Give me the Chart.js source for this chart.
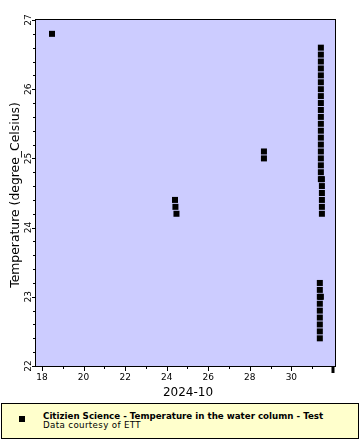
<!DOCTYPE html>
<html><head><meta charset="utf-8">
<script src="https://cdn.jsdelivr.net/npm/chart.js@4/dist/chart.umd.min.js"></script>
<style>
html,body{margin:0;padding:0;background:#fff;}
#wrap{position:relative;width:360px;height:440px;overflow:hidden;}
#c{position:absolute;left:0;top:0;}
#legend{position:absolute;left:1px;top:403px;width:356px;height:34px;background:#FFFFCC;border:1px solid #000;font-family:"DejaVu Sans",sans-serif;color:#000;}
#mk{position:absolute;left:17px;top:12px;width:6px;height:6px;background:#000;}
#l1{position:absolute;left:41px;top:8px;font-size:8.7px;font-weight:bold;line-height:9px;white-space:nowrap;}
#l2{position:absolute;left:41px;top:17px;font-size:8.7px;line-height:9px;letter-spacing:0.35px;white-space:nowrap;}
</style>
</head><body>
<div id="wrap">
<canvas id="c" width="360" height="440"></canvas>
<div id="legend"><div id="mk"></div><div id="l1">Citizien Science - Temperature in the water column - Test</div><div id="l2">Data courtesy of ETT</div></div>
</div>
<script>
// Day of October 2024 (fractional) and temperature (°C)
const days = [18.48,
  24.40, 24.42, 24.47,
  28.68, 28.68,
  31.42, 31.42, 31.42, 31.42, 31.42, 31.42, 31.42, 31.42, 31.42, 31.42,
  31.42, 31.42, 31.42, 31.42, 31.42, 31.42, 31.42, 31.42, 31.42,
  31.42, 31.47, 31.47, 31.47, 31.47, 31.47, 31.47,
  31.37, 31.37, 31.37, 31.42, 31.37, 31.37, 31.37, 31.37, 31.37, 31.37];
const temps = [26.8,
  24.4, 24.3, 24.2,
  25.1, 25.0,
  26.6, 26.5, 26.4, 26.3, 26.2, 26.1, 26.0, 25.9, 25.8, 25.7,
  25.6, 25.5, 25.4, 25.3, 25.2, 25.1, 25.0, 24.9, 24.8,
  24.7, 24.7, 24.6, 24.5, 24.4, 24.3, 24.2,
  23.2, 23.1, 23.0, 23.0, 22.9, 22.8, 22.7, 22.6, 22.5, 22.4];
const xTickValues = [18, 20, 22, 24, 26, 28, 30];
const xTickLabels = ['18', '20', '22', '24', '26', '28', '30'];
const yTickValues = [22, 23, 24, 25, 26, 27];
const yTickLabels = ['22', '23', '24', '25', '26', '27'];
const xTitle = '2024-10';
const yTitle = 'Temperature (degree_Celsius)';

const pts = days.map((d, i) => ({x: d, y: temps[i]}));

const deco = {
  id: 'deco',
  beforeDraw(chart) {
    const a = chart.chartArea, ctx = chart.ctx;
    ctx.save();
    ctx.fillStyle = '#CCCCFF';
    ctx.fillRect(a.left, a.top, a.right - a.left, a.bottom - a.top);
    ctx.restore();
  },
  afterDraw(chart) {
    const a = chart.chartArea, ctx = chart.ctx;
    const xs = chart.scales.x, ys = chart.scales.y;
    ctx.save();
    ctx.strokeStyle = '#000';
    ctx.fillStyle = '#000';
    ctx.lineWidth = 1;
    ctx.strokeRect(Math.round(a.left) - 0.5, Math.round(a.top) - 0.5,
      Math.round(a.right - a.left) + 1, Math.round(a.bottom - a.top) + 1);
    // y ticks
    ctx.beginPath();
    for (let i = 0; i <= 25; i++) {
      const v = 22 + i * 0.2;
      const py = Math.round(ys.getPixelForValue(v)) + 0.5;
      const len = (i % 5 === 0) ? 4 : 3;
      ctx.moveTo(a.left - len, py); ctx.lineTo(a.left, py);
    }
    // x ticks
    for (let d = 18; d <= 31; d++) {
      const px = Math.round(xs.getPixelForValue(d)) + 0.5;
      const len = (d % 2 === 0) ? 5 : 3;
      ctx.moveTo(px, a.bottom); ctx.lineTo(px, a.bottom + len);
    }
    ctx.stroke();
    // month boundary tick (1 Nov)
    const pm = xs.getPixelForValue(32);
    ctx.fillRect(Math.round(pm) - 1.5, a.bottom, 3, 7);
    // x tick labels
    ctx.font = '9px "DejaVu Sans"';
    ctx.textAlign = 'center';
    ctx.textBaseline = 'alphabetic';
    xTickValues.forEach((v, i) => ctx.fillText(xTickLabels[i], xs.getPixelForValue(v), 380));
    // y tick labels rotated
    yTickValues.forEach((v, i) => {
      ctx.save();
      ctx.translate(30.5, ys.getPixelForValue(v));
      ctx.rotate(-Math.PI / 2);
      ctx.fillText(yTickLabels[i], 0, 0);
      ctx.restore();
    });
    // titles
    ctx.font = '12px "DejaVu Sans"';
    ctx.fillText(xTitle, 188, 396);
    ctx.font = '12.4px "DejaVu Sans"';
    ctx.save();
    ctx.translate(19, 195);
    ctx.rotate(-Math.PI / 2);
    ctx.fillText(yTitle, 0, 0);
    ctx.restore();
    ctx.restore();
  }
};

new Chart(document.getElementById('c'), {
  type: 'scatter',
  data: { datasets: [{ data: pts, pointStyle: 'rect', pointRadius: 4.25, pointHoverRadius: 4.25,
    backgroundColor: '#000', borderWidth: 0, showLine: false }] },
  options: {
    responsive: false, animation: false, devicePixelRatio: 1,
    layout: { padding: { top: 20, right: 25, left: 0, bottom: 0 } },
    plugins: { legend: { display: false }, tooltip: { enabled: false } },
    scales: {
      x: { type: 'linear', min: 17.71, max: 32.10,
        ticks: { display: false }, grid: { display: false }, border: { display: false },
        afterFit(s) { s.height = 74; } },
      y: { type: 'linear', min: 22, max: 27,
        ticks: { display: false }, grid: { display: false }, border: { display: false },
        afterFit(s) { s.width = 36; } }
    }
  },
  plugins: [deco]
});
</script>
</body></html>
